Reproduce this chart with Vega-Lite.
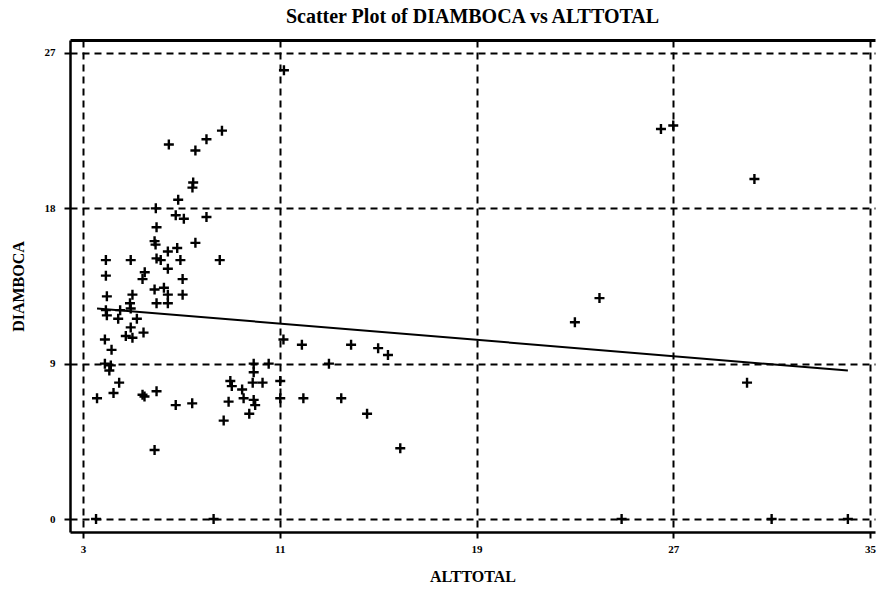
{
  "$schema": "https://vega.github.io/schema/vega-lite/v6.json",
  "width": 805,
  "height": 492,
  "autosize": "none",
  "padding": {"left": 70, "top": 40, "right": 3, "bottom": 59},
  "background": "white",
  "config": {"view": {"stroke": null}, "font": "Liberation Serif"},
  "title": {"text": "Scatter Plot of DIAMBOCA vs ALTTOTAL", "fontSize": 20, "fontWeight": "bold", "font": "Liberation Serif", "color": "black", "offset": 13, "anchor": "middle"},
  "datasets": {
    "pts": [
      {"ALTTOTAL": 6.49, "DIAMBOCA": 21.7}, {"ALTTOTAL": 8.65, "DIAMBOCA": 22.5}, {"ALTTOTAL": 8.02, "DIAMBOCA": 22.0},
      {"ALTTOTAL": 7.57, "DIAMBOCA": 21.35}, {"ALTTOTAL": 7.48, "DIAMBOCA": 19.5}, {"ALTTOTAL": 7.45, "DIAMBOCA": 19.2},
      {"ALTTOTAL": 6.87, "DIAMBOCA": 18.5}, {"ALTTOTAL": 5.96, "DIAMBOCA": 18.0}, {"ALTTOTAL": 6.77, "DIAMBOCA": 17.6},
      {"ALTTOTAL": 7.1, "DIAMBOCA": 17.4}, {"ALTTOTAL": 8.02, "DIAMBOCA": 17.5}, {"ALTTOTAL": 5.99, "DIAMBOCA": 16.9},
      {"ALTTOTAL": 5.91, "DIAMBOCA": 16.1}, {"ALTTOTAL": 5.95, "DIAMBOCA": 15.9}, {"ALTTOTAL": 6.45, "DIAMBOCA": 15.5},
      {"ALTTOTAL": 6.83, "DIAMBOCA": 15.7}, {"ALTTOTAL": 7.57, "DIAMBOCA": 16.0}, {"ALTTOTAL": 3.93, "DIAMBOCA": 15.0},
      {"ALTTOTAL": 4.94, "DIAMBOCA": 15.0}, {"ALTTOTAL": 5.99, "DIAMBOCA": 15.1}, {"ALTTOTAL": 6.16, "DIAMBOCA": 15.0},
      {"ALTTOTAL": 6.45, "DIAMBOCA": 14.5}, {"ALTTOTAL": 6.96, "DIAMBOCA": 15.0}, {"ALTTOTAL": 8.56, "DIAMBOCA": 15.0},
      {"ALTTOTAL": 3.93, "DIAMBOCA": 14.1}, {"ALTTOTAL": 5.51, "DIAMBOCA": 14.3}, {"ALTTOTAL": 5.42, "DIAMBOCA": 13.9},
      {"ALTTOTAL": 7.05, "DIAMBOCA": 13.9}, {"ALTTOTAL": 5.91, "DIAMBOCA": 13.3}, {"ALTTOTAL": 6.29, "DIAMBOCA": 13.4},
      {"ALTTOTAL": 6.45, "DIAMBOCA": 13.0}, {"ALTTOTAL": 7.05, "DIAMBOCA": 13.0}, {"ALTTOTAL": 3.97, "DIAMBOCA": 12.9},
      {"ALTTOTAL": 5.01, "DIAMBOCA": 13.0}, {"ALTTOTAL": 4.91, "DIAMBOCA": 12.5}, {"ALTTOTAL": 5.99, "DIAMBOCA": 12.5},
      {"ALTTOTAL": 6.45, "DIAMBOCA": 12.5}, {"ALTTOTAL": 3.93, "DIAMBOCA": 12.1}, {"ALTTOTAL": 4.51, "DIAMBOCA": 12.1},
      {"ALTTOTAL": 4.94, "DIAMBOCA": 12.2}, {"ALTTOTAL": 3.97, "DIAMBOCA": 11.8}, {"ALTTOTAL": 4.43, "DIAMBOCA": 11.6},
      {"ALTTOTAL": 5.19, "DIAMBOCA": 11.6}, {"ALTTOTAL": 4.94, "DIAMBOCA": 11.1}, {"ALTTOTAL": 4.74, "DIAMBOCA": 10.6},
      {"ALTTOTAL": 5.01, "DIAMBOCA": 10.5}, {"ALTTOTAL": 5.46, "DIAMBOCA": 10.8}, {"ALTTOTAL": 3.89, "DIAMBOCA": 10.4},
      {"ALTTOTAL": 4.16, "DIAMBOCA": 9.8}, {"ALTTOTAL": 3.89, "DIAMBOCA": 9.0}, {"ALTTOTAL": 4.13, "DIAMBOCA": 8.9},
      {"ALTTOTAL": 4.07, "DIAMBOCA": 8.6}, {"ALTTOTAL": 9.94, "DIAMBOCA": 9.0}, {"ALTTOTAL": 10.55, "DIAMBOCA": 9.0},
      {"ALTTOTAL": 9.94, "DIAMBOCA": 8.5}, {"ALTTOTAL": 4.47, "DIAMBOCA": 7.9}, {"ALTTOTAL": 4.24, "DIAMBOCA": 7.3},
      {"ALTTOTAL": 3.57, "DIAMBOCA": 7.0}, {"ALTTOTAL": 5.42, "DIAMBOCA": 7.2}, {"ALTTOTAL": 5.5, "DIAMBOCA": 7.1},
      {"ALTTOTAL": 5.99, "DIAMBOCA": 7.4}, {"ALTTOTAL": 6.77, "DIAMBOCA": 6.6}, {"ALTTOTAL": 7.44, "DIAMBOCA": 6.7},
      {"ALTTOTAL": 5.91, "DIAMBOCA": 4.0}, {"ALTTOTAL": 3.53, "DIAMBOCA": 0.0}, {"ALTTOTAL": 8.31, "DIAMBOCA": 0.0},
      {"ALTTOTAL": 9.9, "DIAMBOCA": 7.9}, {"ALTTOTAL": 10.3, "DIAMBOCA": 7.9}, {"ALTTOTAL": 8.99, "DIAMBOCA": 8.0},
      {"ALTTOTAL": 9.05, "DIAMBOCA": 7.7}, {"ALTTOTAL": 9.47, "DIAMBOCA": 7.5}, {"ALTTOTAL": 9.53, "DIAMBOCA": 7.0},
      {"ALTTOTAL": 9.94, "DIAMBOCA": 6.9}, {"ALTTOTAL": 10.0, "DIAMBOCA": 6.6}, {"ALTTOTAL": 8.92, "DIAMBOCA": 6.8},
      {"ALTTOTAL": 9.76, "DIAMBOCA": 6.1}, {"ALTTOTAL": 8.72, "DIAMBOCA": 5.7},
      {"ALTTOTAL": 11.17, "DIAMBOCA": 26.0}, {"ALTTOTAL": 11.15, "DIAMBOCA": 10.4}, {"ALTTOTAL": 11.9, "DIAMBOCA": 10.1},
      {"ALTTOTAL": 13.9, "DIAMBOCA": 10.1}, {"ALTTOTAL": 15.0, "DIAMBOCA": 9.9}, {"ALTTOTAL": 15.4, "DIAMBOCA": 9.5},
      {"ALTTOTAL": 13.0, "DIAMBOCA": 9.0}, {"ALTTOTAL": 11.02, "DIAMBOCA": 8.0}, {"ALTTOTAL": 11.02, "DIAMBOCA": 7.0},
      {"ALTTOTAL": 11.96, "DIAMBOCA": 7.0}, {"ALTTOTAL": 13.5, "DIAMBOCA": 7.0}, {"ALTTOTAL": 14.55, "DIAMBOCA": 6.1},
      {"ALTTOTAL": 15.9, "DIAMBOCA": 4.1},
      {"ALTTOTAL": 26.5, "DIAMBOCA": 22.6}, {"ALTTOTAL": 27.0, "DIAMBOCA": 22.8}, {"ALTTOTAL": 30.3, "DIAMBOCA": 19.7},
      {"ALTTOTAL": 24.0, "DIAMBOCA": 12.8}, {"ALTTOTAL": 23.0, "DIAMBOCA": 11.4}, {"ALTTOTAL": 30.0, "DIAMBOCA": 7.9},
      {"ALTTOTAL": 24.9, "DIAMBOCA": 0.0}, {"ALTTOTAL": 31.0, "DIAMBOCA": 0.0}, {"ALTTOTAL": 34.1, "DIAMBOCA": 0.0}
    ],
    "fit": [
      {"ALTTOTAL": 3.57, "DIAMBOCA": 12.2},
      {"ALTTOTAL": 34.1, "DIAMBOCA": 8.6}
    ]
  },
  "layer": [
    {
      "data": {"name": "pts"},
      "mark": {"type": "point", "shape": "M-1,0H1M0,-1V1", "size": 100, "strokeWidth": 2.4, "color": "black", "filled": false, "opacity": 1},
      "encoding": {
        "x": {
          "field": "ALTTOTAL", "type": "quantitative",
          "scale": {"domain": [2.471, 35.203], "nice": false, "zero": false},
          "axis": {
            "values": [3, 11, 19, 27, 35], "grid": true, "gridDash": [7, 5], "gridColor": "black", "gridWidth": 2, "gridOpacity": 1,
            "domainColor": "black", "domainWidth": 2.5, "tickColor": "black", "tickSize": 6, "tickWidth": 2,
            "labelFont": "Liberation Serif", "labelFontSize": 11, "labelFontWeight": "bold", "labelColor": "black", "labelPadding": 5, "labelFlush": false,
            "title": "ALTTOTAL", "titleFont": "Liberation Serif", "titleFontSize": 16, "titleFontWeight": "bold", "titleColor": "black", "titlePadding": 14
          }
        },
        "y": {
          "field": "DIAMBOCA", "type": "quantitative",
          "scale": {"domain": [-0.753, 27.753], "nice": false, "zero": false},
          "axis": {
            "values": [0, 9, 18, 27], "grid": true, "gridDash": [7, 5], "gridColor": "black", "gridWidth": 2, "gridOpacity": 1,
            "domainColor": "black", "domainWidth": 2.5, "tickColor": "black", "tickSize": 6, "tickWidth": 2,
            "labelFont": "Liberation Serif", "labelFontSize": 11, "labelFontWeight": "bold", "labelColor": "black", "labelPadding": 9,
            "title": "DIAMBOCA", "titleFont": "Liberation Serif", "titleFontSize": 16, "titleFontWeight": "bold", "titleColor": "black", "titlePadding": 18
          }
        }
      }
    },
    {
      "data": {"name": "fit"},
      "mark": {"type": "line", "color": "black", "strokeWidth": 2},
      "encoding": {
        "x": {"field": "ALTTOTAL", "type": "quantitative", "axis": {"orient": "top", "labels": false, "ticks": false, "grid": false, "title": null, "domain": true, "domainColor": "black", "domainWidth": 3}},
        "y": {"field": "DIAMBOCA", "type": "quantitative"}
      }
    }
  ],
  "resolve": {"axis": {"x": "independent"}}
}
